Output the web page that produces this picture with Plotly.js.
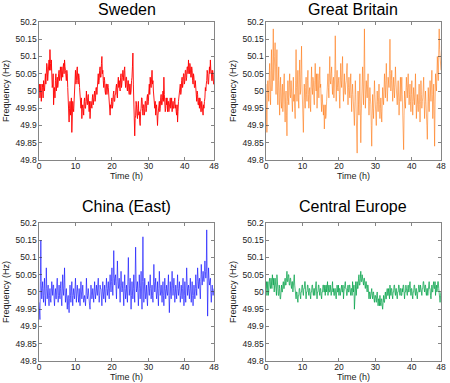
<!DOCTYPE html>
<html>
<head>
<meta charset="utf-8">
<script src="https://cdn.plot.ly/plotly-3.0.1.min.js"></script>
<style>html,body{margin:0;padding:0;background:#fff;}#chart{width:450px;height:383px;}</style>
</head>
<body>
<div id="chart"></div>
<script>
// Sampling step of the recordings (hours)
const stepHours = 0.125;

const titles = ["Sweden", "Great Britain", "China (East)", "Central Europe"];
const xTickVals = [0, 10, 20, 30, 40, 48];
const xTickText = ["0", "10", "20", "30", "40", "48"];
const yTickVals = [49.8, 49.85, 49.9, 49.95, 50, 50.05, 50.1, 50.15, 50.2];
const yTickText = ["49.8", "49.85", "49.9", "49.95", "50", "50.05", "50.1", "50.15", "50.2"];

const sweden = [
  50.00, 50.02, 49.98, 50.01, 50.02, 49.97, 49.99, 50.02,
  50.01, 49.98, 50.03, 50.01, 50.00, 50.04, 50.05, 50.02,
  50.04, 50.08, 50.07, 50.03, 50.05, 50.08, 50.09, 50.06,
  50.12, 50.08, 50.06, 50.09, 50.04, 50.01, 50.02, 50.05,
  49.96, 50.00, 50.01, 49.98, 50.03, 50.05, 50.00, 50.03,
  50.04, 50.01, 50.02, 50.05, 50.06, 50.03, 50.04, 50.07,
  50.05, 50.03, 50.07, 50.05, 50.04, 50.07, 50.08, 50.05,
  50.09, 50.07, 50.06, 50.04, 50.03, 50.06, 50.05, 50.01,
  49.98, 49.95, 49.91, 49.95, 49.97, 49.93, 49.95, 49.98,
  49.88, 49.93, 49.97, 49.95, 49.94, 49.98, 49.99, 50.02,
  50.06, 50.02, 50.03, 50.06, 50.07, 50.03, 50.02, 50.05,
  50.04, 50.01, 49.98, 49.96, 49.95, 49.98, 49.92, 49.95,
  49.96, 49.94, 49.93, 49.97, 49.98, 49.95, 49.95, 49.97,
  50.00, 49.97, 49.96, 49.98, 49.99, 49.96, 49.94, 49.97,
  49.92, 49.95, 49.97, 49.95, 49.95, 49.98, 49.99, 49.96,
  49.97, 49.99, 50.00, 49.97, 49.98, 50.01, 50.01, 49.99,
  50.02, 50.04, 50.05, 50.02, 50.03, 50.06, 50.07, 50.04,
  50.04, 50.08, 50.10, 50.05, 50.06, 50.03, 50.01, 50.04,
  50.03, 50.00, 49.99, 50.02, 50.02, 49.99, 50.00, 50.02,
  50.01, 49.98, 49.97, 49.94, 49.93, 49.96, 49.95, 49.97,
  49.98, 49.95, 49.96, 49.99, 50.00, 49.97, 49.97, 49.99,
  49.99, 50.01, 50.02, 49.99, 49.98, 50.02, 50.04, 50.01,
  50.03, 50.01, 50.00, 50.04, 50.05, 50.01, 50.02, 50.04,
  50.06, 50.03, 50.03, 50.06, 50.07, 50.03, 50.01, 50.04,
  50.04, 50.01, 50.00, 50.03, 50.03, 50.00, 49.99, 50.02,
  50.02, 49.99, 50.00, 50.03, 50.04, 50.07, 50.11, 50.02,
  49.97, 49.91, 49.87, 49.92, 49.93, 49.97, 49.96, 49.93,
  49.92, 49.95, 49.97, 49.93, 49.94, 49.91, 49.90, 49.94,
  49.95, 49.98, 49.98, 49.95, 49.93, 49.96, 49.96, 49.93,
  49.94, 49.97, 49.97, 49.94, 49.95, 49.98, 49.99, 49.96,
  49.97, 50.00, 50.02, 49.99, 50.04, 50.02, 50.01, 50.04,
  50.06, 50.02, 50.03, 50.00, 49.98, 49.96, 49.95, 49.97,
  49.93, 49.95, 49.96, 49.93, 49.90, 49.93, 49.94, 49.96,
  49.97, 49.94, 49.95, 49.98, 49.99, 49.96, 49.96, 49.98,
  50.00, 49.97, 50.04, 49.99, 49.97, 49.94, 49.95, 49.98,
  49.96, 49.98, 49.94, 49.97, 49.97, 49.94, 49.95, 49.97,
  49.98, 49.95, 49.96, 49.98, 49.94, 49.96, 49.97, 49.95,
  49.95, 49.97, 49.98, 49.95, 49.96, 49.94, 49.93, 49.96,
  49.91, 49.94, 49.97, 49.99, 49.99, 50.01, 50.02, 49.99,
  50.00, 50.03, 50.04, 50.01, 50.02, 50.05, 50.05, 50.02,
  50.03, 50.06, 50.06, 50.03, 50.04, 50.07, 50.07, 50.05,
  50.09, 50.06, 50.05, 50.08, 50.07, 50.04, 50.04, 50.07,
  50.06, 50.03, 50.02, 50.05, 50.04, 50.01, 50.01, 50.03,
  50.00, 49.98, 49.97, 50.00, 49.99, 49.96, 49.96, 49.98,
  49.95, 49.98, 49.97, 49.94, 49.94, 49.97, 49.96, 49.94,
  49.93, 49.96, 49.95, 49.97, 49.98, 50.01, 50.00, 50.02,
  50.03, 50.06, 50.05, 50.02, 50.02, 50.05, 50.07, 50.05,
  50.09, 50.06, 50.06, 50.03, 50.03, 50.06, 50.05, 50.02,
  50.02
];

const greatBritain = [
  50.02, 49.96, 49.88, 49.99, 50.03, 50.00, 49.97, 50.04,
  50.08, 49.99, 49.96, 50.06, 50.12, 50.00, 50.02, 50.09,
  50.18, 50.03, 50.05, 50.10, 50.14, 50.02, 49.99, 50.07,
  50.12, 50.00, 49.96, 50.03, 50.07, 49.98, 49.93, 50.01,
  50.04, 49.97, 49.95, 50.00, 50.02, 49.94, 49.97, 50.03,
  50.05, 49.96, 49.91, 49.98, 50.00, 49.93, 49.87, 49.97,
  50.03, 49.98, 49.96, 50.02, 50.05, 49.99, 49.98, 50.03,
  50.01, 49.96, 49.94, 50.00, 50.04, 49.97, 49.99, 49.95,
  49.92, 50.03, 50.12, 50.01, 49.97, 50.02, 50.06, 49.98,
  49.95, 50.04, 50.09, 49.99, 50.00, 50.06, 50.13, 50.02,
  49.97, 49.92, 49.88, 49.96, 50.02, 49.98, 49.95, 50.01,
  50.04, 49.99, 49.97, 50.03, 50.06, 49.99, 49.95, 50.00,
  50.01, 49.96, 49.94, 50.02, 50.07, 50.01, 49.99, 50.04,
  50.03, 49.98, 49.96, 50.03, 50.08, 50.02, 50.00, 50.05,
  49.95, 50.00, 50.05, 50.01, 49.98, 50.03, 50.07, 50.01,
  50.02, 49.97, 49.94, 49.99, 49.97, 49.95, 49.93, 49.96,
  49.89, 49.93, 49.96, 49.92, 49.93, 49.97, 50.00, 50.03,
  50.05, 50.01, 49.98, 50.05, 50.10, 50.03, 50.02, 50.05,
  50.07, 50.02, 49.99, 50.03, 50.04, 49.98, 50.01, 50.05,
  50.16, 50.04, 49.97, 50.02, 50.06, 50.01, 50.00, 50.03,
  50.04, 49.99, 49.95, 50.02, 50.08, 50.03, 50.01, 50.06,
  50.10, 50.02, 49.97, 50.01, 50.05, 50.00, 49.99, 50.02,
  50.03, 50.06, 50.08, 50.00, 49.96, 50.01, 50.04, 50.00,
  49.98, 50.02, 50.05, 49.99, 49.94, 49.99, 50.02, 49.99,
  49.97, 49.93, 49.90, 49.97, 50.03, 49.99, 49.95, 49.88,
  49.82, 49.93, 50.00, 49.96, 49.93, 49.99, 50.05, 49.95,
  49.85, 49.93, 49.98, 50.03, 50.07, 50.00, 49.96, 50.06,
  50.18, 50.03, 49.95, 49.99, 50.03, 50.00, 49.98, 50.02,
  50.05, 49.98, 49.93, 49.97, 50.01, 49.98, 49.96, 49.90,
  49.84, 49.93, 49.99, 49.95, 49.92, 49.98, 50.03, 49.99,
  49.95, 49.92, 49.90, 49.96, 50.00, 49.97, 49.94, 49.98,
  50.02, 49.96, 49.92, 49.95, 49.98, 49.94, 49.91, 49.96,
  50.01, 49.98, 49.96, 50.01, 50.05, 50.01, 49.98, 50.03,
  50.08, 50.02, 49.97, 50.00, 50.04, 50.02, 50.01, 50.06,
  50.15, 50.05, 50.00, 50.03, 50.06, 50.01, 49.97, 50.00,
  50.04, 50.01, 49.98, 50.02, 50.07, 50.03, 50.00, 49.97,
  49.96, 50.00, 50.03, 49.98, 49.93, 49.97, 50.01, 50.04,
  49.97, 50.01, 50.04, 49.99, 49.95, 49.90, 49.83, 49.93,
  50.00, 49.97, 49.95, 50.00, 50.04, 50.01, 49.98, 50.02,
  50.05, 50.00, 49.96, 49.99, 50.02, 49.97, 49.94, 49.99,
  50.03, 49.97, 49.93, 49.97, 50.01, 49.98, 49.96, 50.00,
  50.05, 49.98, 49.92, 49.96, 49.99, 49.96, 49.94, 49.98,
  50.02, 49.96, 49.91, 49.97, 50.03, 49.99, 49.95, 49.97,
  49.98, 50.01, 50.04, 49.97, 49.92, 49.96, 50.00, 49.97,
  49.95, 49.90, 49.86, 49.94, 50.01, 49.97, 49.94, 49.99,
  50.03, 50.00, 49.97, 50.02, 50.06, 49.99, 49.92, 49.97,
  50.02, 49.93, 49.84, 49.96, 50.05, 50.02, 50.00, 50.06,
  50.10, 50.06, 50.03, 50.11, 50.18, 50.12, 50.08, 50.10,
  50.06
];

const chinaEast = [
  49.97, 49.93, 49.92, 50.03, 50.15, 50.02, 49.98, 50.01,
  50.03, 49.99, 49.97, 50.01, 50.04, 49.99, 49.96, 50.00,
  50.07, 50.01, 49.98, 50.00, 50.02, 49.98, 49.96, 49.99,
  50.01, 49.98, 49.97, 50.00, 50.03, 50.01, 49.99, 50.02,
  50.02, 49.98, 49.96, 49.99, 50.01, 49.98, 49.98, 50.02,
  50.04, 50.00, 49.97, 49.99, 50.02, 49.99, 49.98, 50.01,
  50.03, 49.98, 49.96, 50.00, 50.05, 50.01, 49.99, 50.02,
  50.07, 50.01, 49.97, 49.99, 50.01, 49.97, 49.95, 49.98,
  49.99, 49.96, 49.94, 49.98, 50.02, 49.99, 49.97, 50.00,
  50.03, 49.99, 49.96, 49.99, 50.01, 49.99, 49.98, 50.01,
  50.04, 50.00, 49.97, 50.00, 50.02, 50.00, 49.99, 49.97,
  50.01, 49.98, 49.96, 50.00, 50.03, 50.00, 49.98, 50.00,
  50.02, 49.99, 49.97, 49.98, 49.99, 49.97, 49.96, 49.99,
  50.04, 50.00, 49.98, 49.99, 50.01, 49.98, 49.97, 49.96,
  49.95, 49.99, 50.02, 50.00, 49.98, 49.99, 50.01, 49.99,
  49.97, 50.00, 50.03, 50.00, 49.98, 50.00, 50.02, 50.00,
  49.99, 50.02, 50.04, 50.00, 49.97, 49.99, 50.02, 50.01,
  50.01, 49.98, 49.96, 50.00, 50.03, 50.00, 49.98, 50.00,
  50.02, 49.99, 49.97, 50.01, 50.04, 50.01, 49.99, 50.01,
  50.03, 50.00, 49.98, 50.02, 50.05, 50.02, 50.00, 50.03,
  50.07, 50.02, 49.99, 50.04, 50.12, 50.05, 50.02, 50.04,
  50.05, 50.01, 49.98, 50.03, 50.09, 50.04, 50.01, 50.02,
  50.04, 50.00, 49.97, 50.02, 50.06, 50.02, 50.00, 50.01,
  50.03, 49.99, 49.96, 50.01, 50.05, 50.01, 49.98, 50.00,
  50.02, 49.99, 49.97, 50.04, 50.10, 50.03, 49.99, 50.01,
  50.04, 49.99, 49.95, 49.99, 50.03, 50.00, 49.98, 50.01,
  50.05, 50.00, 49.97, 50.05, 50.13, 50.04, 50.00, 50.01,
  50.03, 49.98, 49.96, 50.00, 50.05, 50.01, 49.98, 50.02,
  50.06, 50.00, 49.95, 50.03, 50.16, 50.03, 49.97, 50.00,
  50.04, 50.00, 49.98, 49.99, 50.02, 49.98, 49.96, 50.00,
  50.03, 50.01, 49.99, 50.02, 50.05, 50.01, 49.98, 50.00,
  50.02, 49.99, 49.97, 50.02, 50.08, 50.03, 50.00, 50.02,
  50.04, 50.00, 49.98, 50.00, 50.03, 49.99, 49.96, 50.01,
  50.06, 50.02, 49.99, 50.00, 50.02, 49.99, 49.97, 50.00,
  50.03, 49.99, 49.96, 50.00, 50.04, 50.01, 49.98, 50.00,
  50.02, 50.00, 49.99, 50.02, 50.05, 49.99, 49.94, 49.99,
  50.03, 50.00, 49.98, 50.02, 50.06, 50.02, 49.99, 50.01,
  50.04, 50.00, 49.97, 49.99, 50.02, 50.00, 49.98, 50.01,
  50.05, 50.01, 49.99, 50.01, 50.03, 50.00, 49.97, 49.99,
  50.02, 50.00, 49.98, 50.01, 50.04, 50.00, 49.96, 49.99,
  50.03, 50.00, 49.97, 50.02, 50.07, 50.03, 49.99, 50.01,
  50.02, 50.00, 49.98, 50.01, 50.04, 50.00, 49.97, 50.00,
  50.03, 49.99, 49.96, 49.99, 50.02, 50.00, 49.98, 50.01,
  50.05, 50.01, 49.99, 50.03, 50.07, 50.04, 50.01, 50.03,
  50.04, 50.00, 49.98, 50.03, 50.08, 50.05, 50.02, 50.04,
  50.06, 50.04, 50.03, 50.06, 50.09, 50.06, 50.04, 50.06,
  50.18, 50.04, 49.93, 50.02, 50.07, 50.04, 50.02, 50.03,
  50.04, 50.00, 49.97, 50.00, 50.02, 50.00, 49.99, 50.00,
  50.01
];

const centralEurope = [
  50.01, 50.03, 49.99, 50.02, 50.03, 49.99, 50.00, 50.03,
  50.04, 50.02, 50.01, 50.04, 50.03, 50.01, 50.05, 50.02,
  50.02, 50.04, 50.00, 50.02, 50.04, 50.02, 50.01, 49.99,
  50.05, 50.02, 50.02, 49.99, 49.99, 50.02, 50.01, 49.98,
  49.98, 50.00, 50.02, 50.00, 50.00, 50.02, 50.03, 50.01,
  50.01, 50.03, 50.04, 50.02, 50.02, 50.04, 50.06, 50.03,
  50.03, 50.05, 50.05, 50.02, 50.02, 50.04, 50.04, 50.02,
  50.01, 50.03, 50.03, 50.00, 50.02, 50.04, 50.05, 50.02,
  50.00, 49.98, 49.98, 50.00, 50.00, 49.98, 49.97, 49.99,
  49.99, 50.01, 50.01, 49.99, 49.98, 50.00, 50.00, 50.02,
  50.02, 50.00, 49.99, 50.01, 50.01, 50.03, 50.03, 50.00,
  49.98, 50.00, 50.00, 50.02, 50.02, 50.00, 49.99, 50.01,
  50.01, 49.99, 49.98, 50.00, 50.00, 50.02, 50.02, 50.00,
  49.99, 50.01, 50.01, 49.99, 50.00, 50.02, 50.03, 50.00,
  49.98, 50.00, 50.00, 50.02, 50.02, 50.00, 49.99, 50.01,
  50.01, 49.99, 49.98, 50.00, 50.00, 50.02, 50.02, 50.00,
  50.00, 50.02, 49.99, 50.01, 50.02, 50.00, 50.01, 50.03,
  49.99, 50.01, 50.02, 50.00, 50.00, 50.02, 50.01, 49.99,
  50.00, 50.02, 50.03, 50.00, 50.01, 49.99, 49.99, 50.01,
  50.01, 49.99, 49.98, 50.00, 50.02, 50.00, 50.00, 50.02,
  49.99, 50.01, 50.01, 49.99, 50.00, 50.02, 50.02, 50.00,
  50.00, 50.02, 49.98, 50.00, 50.01, 50.03, 50.03, 50.01,
  50.01, 49.99, 49.99, 50.01, 50.02, 50.00, 50.00, 50.02,
  50.02, 50.00, 49.99, 50.01, 50.01, 49.99, 50.03, 50.01,
  50.00, 50.02, 49.95, 49.99, 50.01, 50.03, 49.99, 50.01,
  50.03, 50.01, 50.01, 50.04, 50.05, 50.02, 50.02, 50.04,
  50.06, 50.03, 50.03, 50.05, 50.04, 50.02, 50.02, 50.04,
  50.04, 50.02, 50.01, 50.03, 50.03, 50.01, 50.00, 50.02,
  50.02, 50.00, 49.98, 50.00, 50.00, 49.98, 49.99, 50.01,
  50.01, 49.99, 49.98, 50.00, 50.00, 49.98, 49.97, 49.99,
  49.99, 49.98, 49.97, 49.99, 50.00, 49.98, 49.96, 49.98,
  49.98, 49.96, 49.99, 49.97, 49.96, 49.98, 49.98, 49.96,
  49.95, 49.97, 49.99, 49.97, 49.97, 49.99, 50.00, 49.98,
  49.98, 50.00, 50.01, 49.99, 49.99, 50.01, 50.00, 49.98,
  50.02, 50.00, 49.99, 50.01, 50.01, 49.99, 49.98, 50.00,
  50.00, 50.02, 50.02, 50.00, 49.99, 50.01, 50.01, 49.99,
  49.98, 50.00, 50.00, 50.02, 50.02, 50.00, 49.99, 50.01,
  50.01, 49.99, 49.99, 50.01, 50.00, 50.02, 50.02, 50.00,
  49.98, 50.00, 50.00, 50.02, 50.01, 49.99, 49.99, 50.01,
  50.02, 50.00, 50.00, 50.02, 50.03, 50.01, 49.99, 50.01,
  50.01, 49.99, 49.98, 50.00, 50.00, 50.02, 50.02, 50.00,
  49.99, 50.01, 50.01, 49.99, 49.98, 50.00, 50.00, 50.02,
  50.02, 50.00, 50.00, 50.02, 50.01, 49.99, 49.99, 50.01,
  50.01, 50.03, 50.03, 50.01, 50.00, 50.02, 50.02, 50.00,
  49.99, 50.01, 50.01, 49.99, 50.00, 50.02, 50.03, 50.01,
  50.01, 49.99, 49.98, 50.00, 50.02, 50.00, 50.00, 50.02,
  50.03, 50.01, 50.01, 50.03, 49.99, 50.01, 50.02, 50.00,
  50.01, 50.03, 50.03, 50.01, 49.99, 49.97, 49.97, 49.99,
  50.00
];

const series = [sweden, greatBritain, chinaEast, centralEurope];
const colors = ["rgba(255,0,0,1)", "rgba(255,110,0,0.6)", "rgba(0,0,255,0.65)", "rgba(0,160,70,0.8)"];

const traces = series.map((vals, i) => ({
  x: vals.map((_, k) => k * stepHours),
  y: vals,
  type: "scatter",
  mode: "lines",
  line: {color: colors[i], width: 0.9},
  xaxis: i === 0 ? "x" : "x" + (i + 1),
  yaxis: i === 0 ? "y" : "y" + (i + 1),
  hoverinfo: "skip",
  showlegend: false
}));

const font = {family: "Liberation Sans, Arial, sans-serif", color: "#000"};
const xDomains = [[0.0867, 0.4756], [0.5911, 0.98], [0.0867, 0.4756], [0.5911, 0.98]];
const yDomains = [[0.5822, 0.9426], [0.5822, 0.9426], [0.0575, 0.4178], [0.0575, 0.4178]];
const titleY = [0.976, 0.976, 0.462, 0.462];

const layout = {
  width: 450, height: 383,
  margin: {l: 0, r: 0, t: 0, b: 0},
  paper_bgcolor: "#fff", plot_bgcolor: "#fff",
  font: font,
  showlegend: false,
  annotations: titles.map((t, i) => ({
    text: t, xref: "paper", yref: "paper",
    x: (xDomains[i][0] + xDomains[i][1]) / 2, y: titleY[i],
    xanchor: "center", yanchor: "middle", showarrow: false,
    font: {family: font.family, size: 16, color: "#000"}
  }))
};

for (let i = 0; i < 4; i++) {
  const sx = i === 0 ? "" : String(i + 1);
  layout["xaxis" + sx] = {
    domain: xDomains[i], anchor: "y" + sx, range: [0, 48],
    tickvals: xTickVals, ticktext: xTickText,
    ticks: "inside", ticklen: 3, tickwidth: 0.6, tickcolor: "#333",
    showline: true, mirror: "ticks", linecolor: "#333", linewidth: 0.6,
    showgrid: false, zeroline: false, automargin: false,
    ticklabelstandoff: -2,
    tickfont: {family: font.family, size: 8.5, color: "#222"},
    title: {text: "Time (h)", font: {family: font.family, size: 9, color: "#222"}, standoff: 1}
  };
  layout["yaxis" + sx] = {
    domain: yDomains[i], anchor: "x" + sx, range: [49.8, 50.2],
    tickvals: yTickVals, ticktext: yTickText,
    ticks: "inside", ticklen: 3, tickwidth: 0.6, tickcolor: "#333",
    showline: true, mirror: "ticks", linecolor: "#333", linewidth: 0.6,
    showgrid: false, zeroline: false, automargin: false,
    tickfont: {family: font.family, size: 8.5, color: "#222"},
    title: {text: "Frequency (Hz)", font: {family: font.family, size: 9, color: "#222"}, standoff: 4}
  };
}

Plotly.newPlot("chart", traces, layout, {staticPlot: true, displayModeBar: false});
</script>
</body>
</html>
